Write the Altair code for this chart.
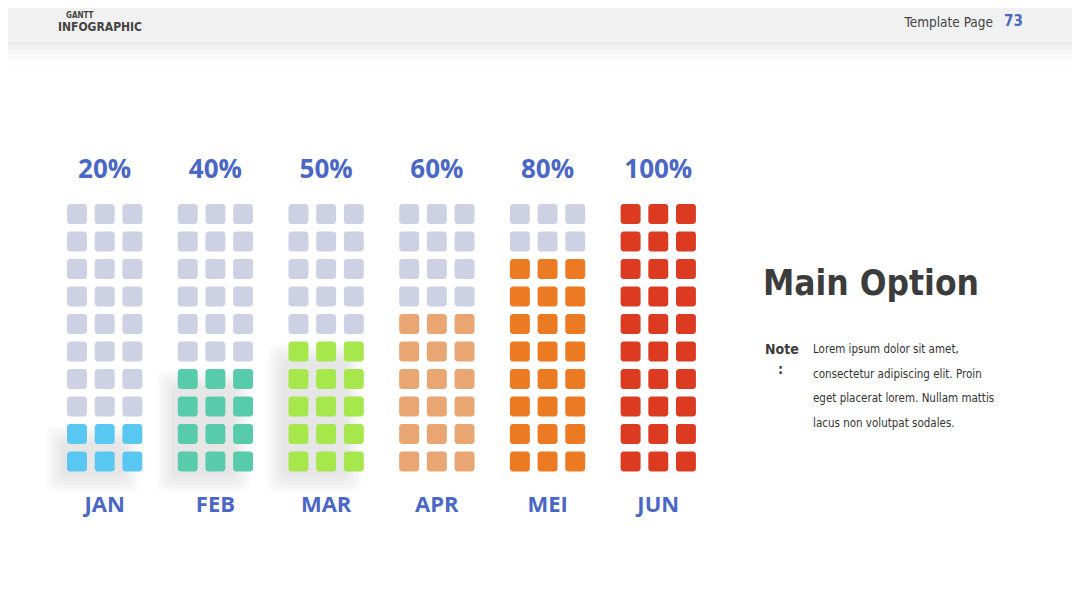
import altair as alt
import pandas as pd

months = ["JAN", "FEB", "MAR", "APR", "MEI", "JUN"]
percents = [20, 40, 50, 60, 80, 100]
fill_colors = ["#58c8f2", "#58cbab", "#a6e74c", "#e9a572", "#ec7a22", "#dc3b22"]
empty_color = "#cdd1e3"
shadowed = ["JAN", "FEB", "MAR"]
n_rows = 10
n_cols = 3
group_step = 4

W, H = 1064, 592
PX, PY = 27.68, 27.5
X0, Y0 = 69.0, 453.5  # pixel of unit 0 (chart coords)
xs = alt.Scale(domain=[-X0 / PX, (W - X0) / PX], nice=False, zero=False)
ys = alt.Scale(domain=[(Y0 - H) / PY, Y0 / PY], nice=False, zero=False)
half = 0.36
hy = half * PX / PY

rows = []
shadow_rows = []
for g, (m, p, c) in enumerate(zip(months, percents, fill_colors)):
    filled = round(p / 100 * n_rows)
    for r in range(n_rows):
        for s in range(n_cols):
            cx = g * group_step + s
            rows.append({"month": m, "cx": cx, "cy": r,
                         "x0": cx - half, "x1": cx + half,
                         "y0": r - hy, "y1": r + hy,
                         "color": c if r < filled else empty_color})
    if m in shadowed:
        for k in range(5):
            ins = k * 0.13
            shadow_rows.append({
                "x0": g * group_step - half - 0.75 + ins,
                "x1": g * group_step + n_cols - 1 + half - 0.1 - ins,
                "y0": -hy - 0.75 + ins,
                "y1": filled - 1 + hy - 0.1 - ins,
            })
cells = pd.DataFrame(rows)
shadow_df = pd.DataFrame(shadow_rows)

labels = pd.DataFrame({
    "month": months,
    "pct": [f"{p}%" for p in percents],
    "cx": [g * group_step + 1 for g in range(len(months))],
    "ytop": [10.6] * len(months),
    "ybot": [-1.58] * len(months),
})

one = alt.Data(values=[{"a": 1}])

header = alt.Chart(one).mark_rect(color="#f1f1f1").encode(
    x=alt.value(0), x2=alt.value(W), y=alt.value(0), y2=alt.value(34))
shadows = [
    alt.Chart(one).mark_rect(color="#000000", opacity=op).encode(
        x=alt.value(0), x2=alt.value(W), y=alt.value(34), y2=alt.value(34 + h))
    for op, h in [(0.02, 3), (0.018, 7), (0.015, 12), (0.012, 18), (0.008, 25)]
]

block_shadow = alt.Chart(shadow_df).mark_rect(
    color="#000000", opacity=0.018, cornerRadius=8
).encode(
    x=alt.X("x0:Q", scale=xs, axis=None), x2="x1:Q",
    y=alt.Y("y0:Q", scale=ys, axis=None), y2="y1:Q",
)

squares = alt.Chart(cells).mark_rect(cornerRadius=3).encode(
    x=alt.X("x0:Q", scale=xs, axis=None), x2="x1:Q",
    y=alt.Y("y0:Q", scale=ys, axis=None), y2="y1:Q",
    color=alt.Color("color:N", scale=None),
)

blue = "#4a67c6"
pct_text = alt.Chart(labels).mark_text(
    font="Open Sans", fontWeight="bold", fontSize=26, color=blue, baseline="middle"
).encode(x=alt.X("cx:Q", scale=xs), y=alt.Y("ytop:Q", scale=ys), text="pct:N")

mon_text = alt.Chart(labels).mark_text(
    font="Open Sans", fontWeight="bold", fontSize=22, color=blue, baseline="middle"
).encode(x=alt.X("cx:Q", scale=xs), y=alt.Y("ybot:Q", scale=ys), text="month:N")

cond = "DejaVu Sans Condensed"

def txt(s, x, y, size, weight="normal", color="#3c3c3c", align="left", baseline="alphabetic"):
    return alt.Chart(one).mark_text(
        text=s, font=cond, fontSize=size, fontWeight=weight, color=color,
        align=align, baseline=baseline
    ).encode(x=alt.value(x), y=alt.value(y))

texts = [
    txt("GANTT", 58, 10, 8, "bold", "#444444"),
    txt("INFOGRAPHIC", 50, 23, 12, "bold", "#444444"),
    txt("Template Page", 985, 19, 13.5, "normal", "#444444", align="right"),
    txt("73", 996, 18, 15, "bold", blue),
    txt("Main Option", 755, 287, 35, "bold", "#3c3c3c"),
    txt("Note", 757, 346, 14, "bold", "#3c3c3c"),
    txt(":", 770, 366, 14, "bold", "#3c3c3c"),
]
body = ["Lorem ipsum dolor sit amet,",
        "consectetur adipiscing elit. Proin",
        "eget placerat lorem. Nullam mattis",
        "lacus non volutpat sodales."]
for i, line in enumerate(body):
    texts.append(txt(line, 805, 345 + i * 24.5, 11.5, "normal", "#333333"))

chart = alt.layer(header, *shadows, block_shadow, squares, pct_text, mon_text, *texts).properties(
    width=W, height=H, padding=0, autosize=alt.AutoSizeParams(type="none"),
    background="white",
).configure_view(stroke=None)

chart.save("out.html", embed_options={"renderer": "svg", "actions": False})
